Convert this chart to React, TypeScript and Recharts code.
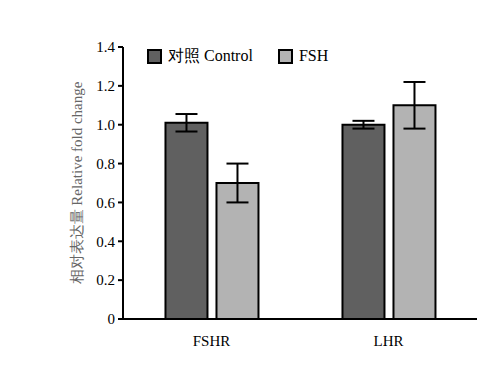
import React from 'react';
import { BarChart, Bar, XAxis, YAxis, ErrorBar } from 'recharts';

const categories = ['FSHR', 'LHR'];
const controlValues = [1.01, 1.0];
const controlErrors = [0.045, 0.02];
const fshValues = [0.70, 1.10];
const fshErrors = [0.10, 0.12];
const yTicks = [0, 0.2, 0.4, 0.6, 0.8, 1.0, 1.2, 1.4];

const seriesNames = ['对照 Control', 'FSH'];
const seriesColors = ['#606060', '#b3b3b3'];

const data = categories.map((c, i) => ({
  name: c,
  control: controlValues[i],
  controlErr: controlErrors[i],
  fsh: fshValues[i],
  fshErr: fshErrors[i],
}));

const FONT = "'Liberation Serif', 'DejaVu Serif', serif";

const LegendBox = () => (
  <div style={{ position: 'absolute', left: 147, top: 47, display: 'flex', alignItems: 'center', fontFamily: FONT, fontSize: 16, color: '#000', lineHeight: '18px' }}>
    {seriesNames.map((n, i) => (
      <div key={n} style={{ display: 'flex', alignItems: 'center', marginRight: i === 0 ? 25 : 0 }}>
        <div style={{ width: 11, height: 11, background: seriesColors[i], border: '2px solid #000', marginRight: 6 }} />
        <span>{n}</span>
      </div>
    ))}
  </div>
);

const YLabel = () => {
  const cx = 77;
  const cy = 183;
  return (
    <text x={cx} y={cy} transform={`rotate(-90 ${cx} ${cy})`} textAnchor="middle" dominantBaseline="central"
      style={{ fontFamily: FONT, fontSize: 15 }} fill="#666">
      相对表达量 Relative fold change
    </text>
  );
};

const tickStyle = { fill: '#000', fontSize: 15, style: { fontFamily: FONT } } as any;

export default function App() {
  return (
    <div style={{ position: 'absolute', left: 0, top: 0, width: 503, height: 367, background: '#fff' }}>
      <BarChart width={503} height={367} data={data} margin={{ top: 47, right: 26, bottom: 18, left: 0 }}
        barGap={9} barCategoryGap="24%" style={{ fontFamily: FONT }}>
        <XAxis dataKey="name" height={30} axisLine={{ stroke: '#000', strokeWidth: 2 }} tickLine={false}
          tick={tickStyle} tickMargin={10} />
        <YAxis width={123} domain={[0, 1.4]} ticks={yTicks} interval={0}
          tickFormatter={(v: number) => (v === 0 ? '0' : v.toFixed(1))}
          axisLine={{ stroke: '#000', strokeWidth: 2 }} tickLine={{ stroke: '#000', strokeWidth: 2 }} tickSize={5}
          tick={tickStyle} tickMargin={3}
          label={<YLabel />} />
        <Bar dataKey="control" name={seriesNames[0]} fill={seriesColors[0]} stroke="#000" strokeWidth={2}
          isAnimationActive={false}>
          <ErrorBar dataKey="controlErr" width={11} stroke="#000" strokeWidth={2} />
        </Bar>
        <Bar dataKey="fsh" name={seriesNames[1]} fill={seriesColors[1]} stroke="#000" strokeWidth={2}
          isAnimationActive={false}>
          <ErrorBar dataKey="fshErr" width={11} stroke="#000" strokeWidth={2} />
        </Bar>
      </BarChart>
      <LegendBox />
    </div>
  );
}
